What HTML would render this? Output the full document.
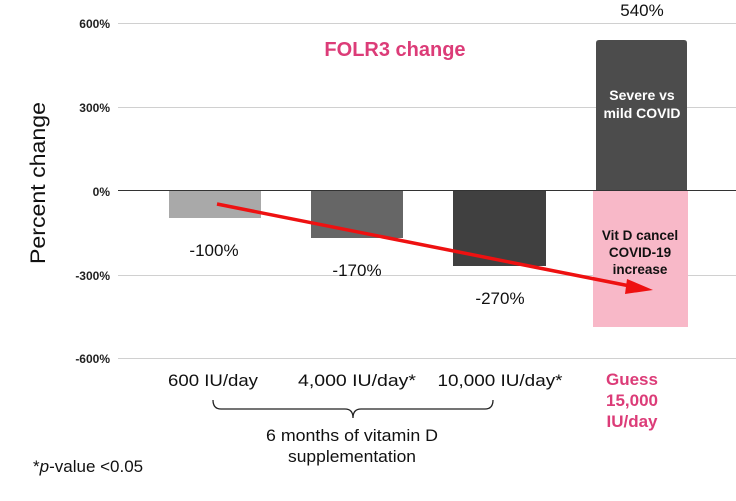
<!DOCTYPE html>
<html><head><style>
body{margin:0;background:#fff;}
svg text{font-family:"Liberation Sans",Arial,sans-serif;}
</style></head><body>
<svg width="736" height="496" viewBox="0 0 736 496" xmlns="http://www.w3.org/2000/svg">
<rect width="736" height="496" fill="#fff"/>
<g stroke="#d0d0d0" stroke-width="1">
<line x1="118" y1="23.5" x2="736" y2="23.5"/>
<line x1="118" y1="107.5" x2="736" y2="107.5"/>
<line x1="118" y1="275.5" x2="736" y2="275.5"/>
<line x1="118" y1="358.5" x2="736" y2="358.5"/>
</g>
<g font-size="12" font-weight="bold" fill="#222" text-anchor="end">
<text x="110" y="28">600%</text>
<text x="110" y="112">300%</text>
<text x="110" y="196">0%</text>
<text x="110" y="280">-300%</text>
<text x="110" y="363">-600%</text>
</g>
<text transform="translate(45,183) rotate(-90)" font-size="21" fill="#111" text-anchor="middle" textLength="162" lengthAdjust="spacingAndGlyphs">Percent change</text>
<rect x="169" y="191" width="92" height="27" fill="#a9a9a9"/>
<rect x="311" y="191" width="92" height="47" fill="#666"/>
<rect x="453" y="191" width="93" height="75" fill="#404040"/>
<rect x="593" y="191" width="95" height="136" fill="#f8b8c8"/>
<path d="M596 43 Q596 40 599 40 L684 40 Q687 40 687 43 L687 191 L596 191 Z" fill="#4c4c4c"/>
<line x1="118" y1="190.5" x2="736" y2="190.5" stroke="#333" stroke-width="1"/>
<text x="395" y="56" font-size="20" font-weight="bold" fill="#dc3c78" text-anchor="middle">FOLR3 change</text>
<g font-size="17" fill="#111" text-anchor="middle">
<text x="214" y="256">-100%</text>
<text x="357" y="276">-170%</text>
<text x="500" y="304">-270%</text>
<text x="642" y="16">540%</text>
</g>
<g font-size="14" font-weight="bold" fill="#fff" text-anchor="middle">
<text x="642" y="100">Severe vs</text>
<text x="642" y="118">mild COVID</text>
</g>
<g font-size="13.5" font-weight="bold" fill="#111" text-anchor="middle">
<text x="640" y="240">Vit D cancel</text>
<text x="640" y="257">COVID-19</text>
<text x="640" y="274">increase</text>
</g>
<line x1="217" y1="204" x2="635" y2="287" stroke="#ee1111" stroke-width="3.5"/>
<polygon points="653,290 627,279 625,294" fill="#ee1111"/>
<g font-size="17" fill="#111" text-anchor="middle">
<text x="213" y="386" textLength="90" lengthAdjust="spacingAndGlyphs">600 IU/day</text>
<text x="357" y="386" textLength="118" lengthAdjust="spacingAndGlyphs">4,000 IU/day*</text>
<text x="500" y="386" textLength="125" lengthAdjust="spacingAndGlyphs">10,000 IU/day*</text>
<text x="352" y="441" textLength="172" lengthAdjust="spacingAndGlyphs">6 months of vitamin D</text>
<text x="352" y="462" textLength="128" lengthAdjust="spacingAndGlyphs">supplementation</text>
</g>
<text x="33" y="472" font-size="17" fill="#111">*<tspan font-style="italic">p</tspan>-value &lt;0.05</text>
<g font-size="17" font-weight="bold" fill="#dc3c78" text-anchor="middle">
<text x="632" y="385">Guess</text>
<text x="632" y="406">15,000</text>
<text x="632" y="427">IU/day</text>
</g>
<path d="M213 400 Q213 409 221 409 L345 409 Q353 409 353 418 Q353 409 361 409 L485 409 Q493 409 493 400" fill="none" stroke="#222" stroke-width="1.3"/>
</svg>
</body></html>
